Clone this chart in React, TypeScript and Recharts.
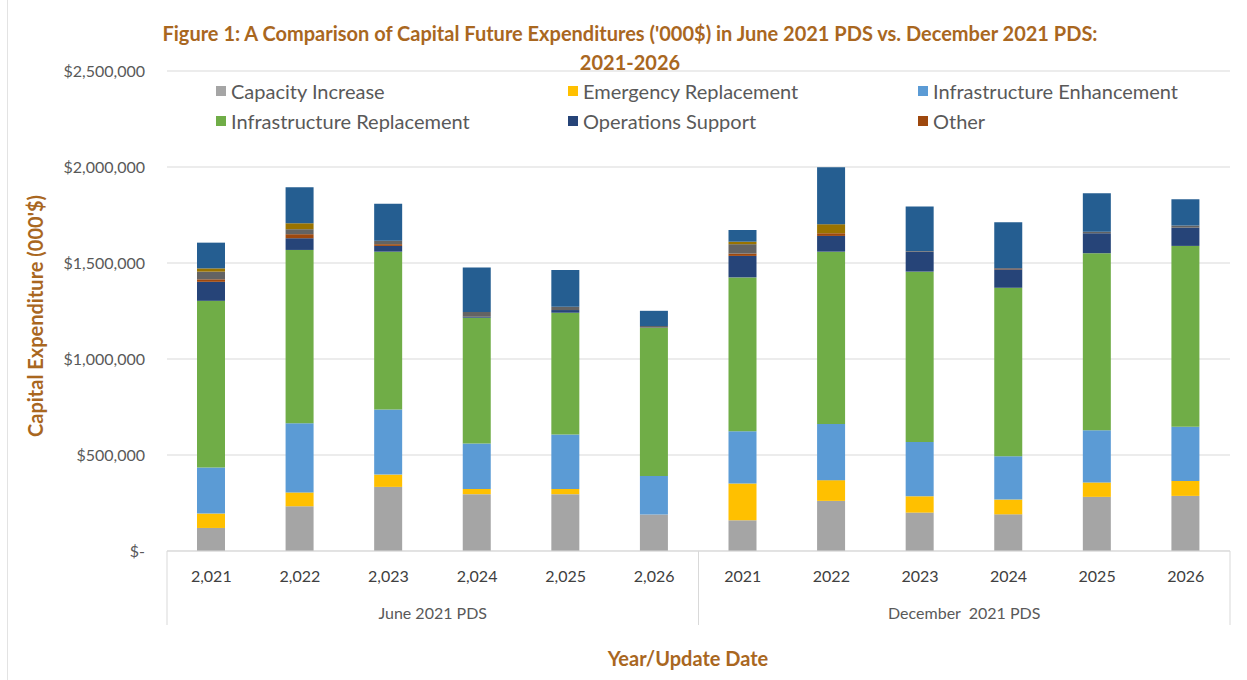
import React from "react";
import { BarChart, Bar, XAxis, YAxis, CartesianGrid, Legend } from "recharts";

const FONT = "Lato, 'Noto Sans', sans-serif";
const BROWN = "#A9671F";

const keys = ["J21", "J22", "J23", "J24", "J25", "J26", "D21", "D22", "D23", "D24", "D25", "D26"];
const yearLabels = ["2,021", "2,022", "2,023", "2,024", "2,025", "2,026", "2021", "2022", "2023", "2024", "2025", "2026"];
const groupLabels = [
  "June 2021 PDS", "June 2021 PDS", "June 2021 PDS", "June 2021 PDS", "June 2021 PDS", "June 2021 PDS",
  "December  2021 PDS", "December  2021 PDS", "December  2021 PDS", "December  2021 PDS", "December  2021 PDS", "December  2021 PDS",
];

const capacityIncrease = [120000, 233000, 334000, 296000, 296000, 190000, 160000, 261000, 200000, 191000, 282000, 287000];
const emergencyReplacement = [75000, 72000, 64000, 27000, 27000, 0, 191000, 108000, 85000, 77000, 75000, 78000];
const infraEnhancement = [240000, 361000, 339000, 237000, 284000, 201000, 273000, 292000, 283000, 226000, 272000, 282000];
const infraReplacement = [868000, 902000, 822000, 655000, 634000, 772000, 801000, 898000, 887000, 877000, 922000, 942000];
const operationsSupport = [99000, 61000, 30000, 5000, 14000, 0, 112000, 82000, 104000, 96000, 104000, 95000];
const other = [13000, 21000, 9000, 0, 0, 0, 12000, 14000, 0, 5000, 0, 0];
// extra series drawn in the bars but missing from the legend
const extraGray = [40000, 26000, 18000, 25000, 17000, 9000, 49000, 0, 4000, 0, 8000, 11000];
const extraGold = [17000, 31000, 0, 0, 0, 0, 13000, 47000, 0, 0, 0, 0];
const extraBlue = [134000, 188000, 192000, 231000, 192000, 79000, 61000, 297000, 231000, 240000, 200000, 137000];

const legendKeys = ["cap", "emg", "enh", "rep", "ops", "oth"];
const yTicks = [0, 500000, 1000000, 1500000, 2000000, 2500000];

const data = keys.map((k, i) => ({
  key: k,
  group: groupLabels[i],
  cap: capacityIncrease[i],
  emg: emergencyReplacement[i],
  enh: infraEnhancement[i],
  rep: infraReplacement[i],
  ops: operationsSupport[i],
  oth: other[i],
  ex1: extraGray[i],
  ex2: extraGold[i],
  ex3: extraBlue[i],
}));

const W = 1247;
const H = 680;
const M = { top: 71, right: 17, bottom: 53, left: 0 };
const YW = 167;
const X1H = 36;
const X2H = 40;
const PLOT_W = W - M.left - M.right - YW;
const PLOT_BOTTOM = H - M.bottom - X1H - X2H;

const fmtMoney = (v: number) => (v === 0 ? "$-" : "$" + v.toLocaleString("en-US"));

function GroupTick(props: any) {
  const { x, payload } = props;
  const half = PLOT_W / 4;
  return (
    <g>
      <text x={x} y={PLOT_BOTTOM + 68} textAnchor="middle" fill="#595959" fontSize={16}
        fontFamily={FONT} style={{ whiteSpace: "pre" }}>
        {payload.value}
      </text>
      <line x1={x - half} x2={x - half} y1={PLOT_BOTTOM} y2={PLOT_BOTTOM + 74} stroke="#d9d9d9" />
      <line x1={x + half} x2={x + half} y1={PLOT_BOTTOM} y2={PLOT_BOTTOM + 74} stroke="#d9d9d9" />
    </g>
  );
}

function LegendBox({ payload }: any) {
  const items = (payload || []).filter((p: any) => legendKeys.includes(p.dataKey));
  return (
    <div style={{ display: "grid", gridTemplateColumns: "352px 350px 320px", rowGap: 8, fontFamily: FONT }}>
      {items.map((p: any) => (
        <div key={p.value} style={{ display: "flex", alignItems: "center", color: "#595959", fontSize: 20, lineHeight: "22px" }}>
          <span style={{ width: 10, height: 10, background: p.color, marginRight: 5, display: "inline-block" }} />
          {p.value}
        </div>
      ))}
    </div>
  );
}

export default function App() {
  return (
    <div style={{ position: "absolute", left: 0, top: 0, width: W, height: H, background: "#fff" }}>
      <div style={{ position: "absolute", left: 7, top: 0, width: 1, height: H, background: "#e3e3e3" }} />
      <BarChart width={W} height={H} data={data} margin={M} barSize={28}>
        <CartesianGrid vertical={false} stroke="#d9d9d9" xAxisId="a_year" />
        <XAxis xAxisId="a_year" dataKey="key" height={X1H} axisLine={{ stroke: "#d9d9d9" }} tickLine={false}
          tickFormatter={(k: string) => yearLabels[keys.indexOf(k)]}
          tick={{ fill: "#404040", fontSize: 16, fontFamily: FONT }} tickMargin={14} />
        <XAxis xAxisId="b_group" dataKey="group" allowDuplicatedCategory={false} height={X2H}
          axisLine={false} tickLine={false} tick={<GroupTick />} interval={0} />
        <YAxis width={YW} domain={[0, 2500000]} ticks={yTicks} axisLine={false} tickLine={false}
          tickFormatter={fmtMoney} tick={{ fill: "#595959", fontSize: 16, fontFamily: FONT }} tickMargin={16} />
        <Legend layout="vertical" verticalAlign="middle" align="center" content={<LegendBox />}
          wrapperStyle={{ top: 80, left: 216, width: 1030, height: 60 }} />
        <Bar xAxisId="a_year" stackId="a" dataKey="cap" name="Capacity Increase" fill="#A5A5A5" isAnimationActive={false} />
        <Bar xAxisId="a_year" stackId="a" dataKey="emg" name="Emergency Replacement" fill="#FFC000" isAnimationActive={false} />
        <Bar xAxisId="a_year" stackId="a" dataKey="enh" name="Infrastructure Enhancement" fill="#5B9BD5" isAnimationActive={false} />
        <Bar xAxisId="a_year" stackId="a" dataKey="rep" name="Infrastructure Replacement" fill="#70AD47" isAnimationActive={false} />
        <Bar xAxisId="a_year" stackId="a" dataKey="ops" name="Operations Support" fill="#264478" isAnimationActive={false} />
        <Bar xAxisId="a_year" stackId="a" dataKey="oth" name="Other" fill="#9E480E" isAnimationActive={false} />
        <Bar xAxisId="a_year" stackId="a" dataKey="ex1" fill="#636363" legendType="none" isAnimationActive={false} />
        <Bar xAxisId="a_year" stackId="a" dataKey="ex2" fill="#997300" legendType="none" isAnimationActive={false} />
        <Bar xAxisId="a_year" stackId="a" dataKey="ex3" fill="#255E91" legendType="none" isAnimationActive={false} />
      </BarChart>
      <div style={{ position: "absolute", left: 80, top: 19, width: 1100, textAlign: "center", color: BROWN,
        fontFamily: FONT, fontWeight: 700, fontSize: 20, lineHeight: "29px" }}>
        Figure 1: A Comparison of Capital Future Expenditures ('000$) in June 2021 PDS vs. December 2021 PDS:
        <br />
        2021-2026
      </div>
      <div style={{ position: "absolute", left: 488, top: 646, width: 400, textAlign: "center", color: BROWN,
        fontFamily: FONT, fontWeight: 700, fontSize: 20 }}>
        Year/Update Date
      </div>
      <div style={{ position: "absolute", left: 35, top: 316, width: 0, height: 0 }}>
        <div style={{ position: "absolute", left: -200, top: -12, width: 400, textAlign: "center", color: BROWN,
          fontFamily: FONT, fontWeight: 700, fontSize: 20, lineHeight: "24px", transform: "rotate(-90deg)" }}>
          Capital Expenditure (000'$)
        </div>
      </div>
    </div>
  );
}
